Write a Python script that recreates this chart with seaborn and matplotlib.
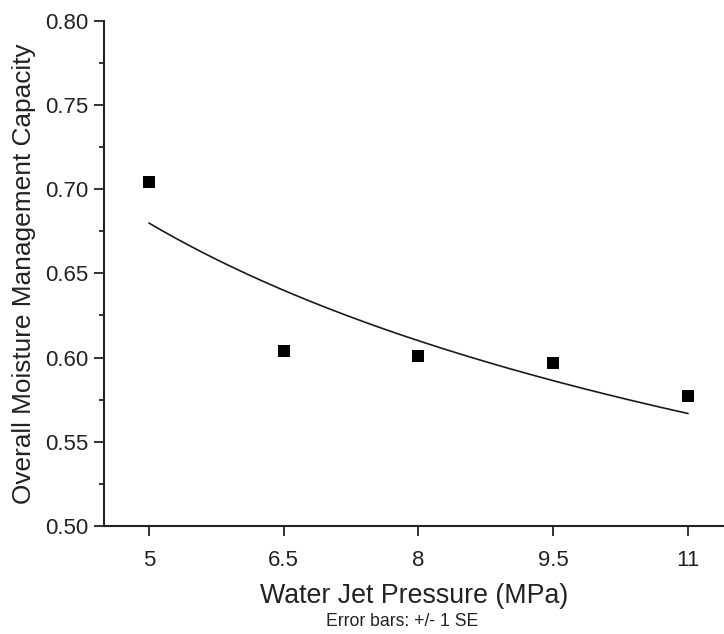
import numpy as np
import pandas as pd
import matplotlib
matplotlib.use("Agg")
import matplotlib.pyplot as plt
import seaborn as sns
from matplotlib.ticker import MultipleLocator

# Data
pressure = [5.0, 6.5, 8.0, 9.5, 11.0]
ommc = [0.704, 0.604, 0.601, 0.597, 0.577]
x_ticks = [5, 6.5, 8, 9.5, 11]
x_tick_labels = ["5", "6.5", "8", "9.5", "11"]
y_ticks = [0.50, 0.55, 0.60, 0.65, 0.70, 0.75, 0.80]

sns.set_theme(style="ticks")
plt.rcParams["font.family"] = ["Liberation Sans", "DejaVu Sans"]

df = pd.DataFrame({"Pressure": pressure, "OMMC": ommc})

# Power-law least-squares fit y = a * x^b (fitted to the data)
xa = np.asarray(pressure)
ya = np.asarray(ommc)
best = None
for b in np.linspace(-1.0, 0.0, 4001):
    xb = xa ** b
    a = np.sum(ya * xb) / np.sum(xb * xb)
    sse = np.sum((ya - a * xb) ** 2)
    if best is None or sse < best[0]:
        best = (sse, a, b)
_, fa, fb = best
xfit = np.linspace(min(pressure), max(pressure), 200)
fit_df = pd.DataFrame({"Pressure": xfit, "Fit": fa * xfit ** fb})

fig = plt.figure(figsize=(7.24, 6.34), dpi=100)
ax = fig.add_axes([104 / 724, 108 / 634, 620 / 724, 505.3 / 634])

sns.lineplot(data=fit_df, x="Pressure", y="Fit", color="#1a1a1a", linewidth=1.2, ax=ax)
sns.scatterplot(data=df, x="Pressure", y="OMMC", marker="s", s=70, color="black",
                edgecolor="black", linewidth=0, ax=ax, zorder=3)

ax.set_xlim(4.5, 11.4)
ax.set_ylim(0.50, 0.80)
ax.set_xticks(x_ticks)
ax.set_xticklabels(x_tick_labels)
ax.set_yticks(y_ticks)
ax.set_yticklabels([f"{v:.2f}" for v in y_ticks])
ax.yaxis.set_minor_locator(MultipleLocator(0.025))

for side in ["top", "right"]:
    ax.spines[side].set_visible(False)
for side in ["left", "bottom"]:
    ax.spines[side].set_linewidth(1.5)
    ax.spines[side].set_color("#222222")

ax.tick_params(axis="both", which="major", direction="out", length=7, width=1.3,
               labelsize=16, colors="#222222", labelcolor="#222222")
ax.tick_params(axis="y", which="minor", direction="out", length=3.6, width=1.3, colors="#222222")
ax.tick_params(axis="x", which="major", pad=10)
ax.tick_params(axis="y", which="major", pad=4)

ax.set_xlabel("Water Jet Pressure (MPa)", fontsize=19.3, color="#222222", labelpad=9)
ax.set_ylabel("Overall Moisture Management Capacity", fontsize=18.9, color="#222222", labelpad=7)

fig.text(402 / 724, 1 - 622 / 634, "Error bars: +/- 1 SE", fontsize=12.7, color="#222222",
         ha="center", va="center")

fig.savefig("out.png", dpi=100)
